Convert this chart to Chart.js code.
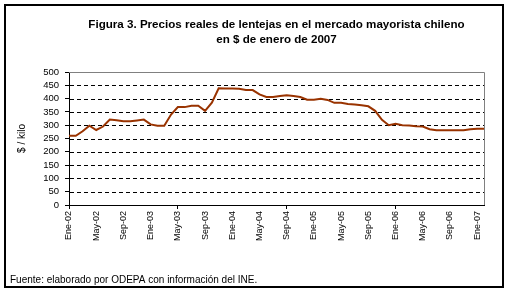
<!DOCTYPE html>
<html>
<head>
<meta charset="utf-8">
<script src="https://cdn.jsdelivr.net/npm/chart.js@4.4.0/dist/chart.umd.min.js"></script>
<style>
  html, body { margin: 0; padding: 0; background: #fff; }
  #wrap { position: relative; width: 509px; height: 293px; }
</style>
</head>
<body>
<div id="wrap"><canvas id="lentejasChart" width="509" height="293"></canvas></div>
<script>
// Meses (categorías), de Ene-02 a Feb-07
const meses = [
  'Ene-02','Feb-02','Mar-02','Abr-02','May-02','Jun-02','Jul-02','Ago-02','Sep-02','Oct-02','Nov-02','Dic-02',
  'Ene-03','Feb-03','Mar-03','Abr-03','May-03','Jun-03','Jul-03','Ago-03','Sep-03','Oct-03','Nov-03','Dic-03',
  'Ene-04','Feb-04','Mar-04','Abr-04','May-04','Jun-04','Jul-04','Ago-04','Sep-04','Oct-04','Nov-04','Dic-04',
  'Ene-05','Feb-05','Mar-05','Abr-05','May-05','Jun-05','Jul-05','Ago-05','Sep-05','Oct-05','Nov-05','Dic-05',
  'Ene-06','Feb-06','Mar-06','Abr-06','May-06','Jun-06','Jul-06','Ago-06','Sep-06','Oct-06','Nov-06','Dic-06',
  'Ene-07','Feb-07'
];

// Precio real ($/kilo, en $ de enero de 2007)
const precios = [
  260, 260, 277, 298, 282, 295, 321, 319, 315, 315, 318, 321,
  303, 298, 298, 340, 368, 368, 373, 373, 354, 385, 439, 438,
  438, 437, 432, 432, 416, 406, 406, 410, 413, 410, 406, 396,
  396, 399, 395, 384, 384, 380, 378, 375, 371, 354, 320, 300,
  305, 300, 299, 296, 295, 285, 281, 281, 281, 281, 281, 285,
  287, 287
];

// Marcas del eje y
const yMin = 0;
const yMax = 500;
const yPaso = 50;

const titulo = ['Figura 3. Precios reales de lentejas en el mercado mayorista chileno', 'en $ de enero de 2007'];
const tituloEjeY = '$ / kilo';
const fuente = 'Fuente: elaborado por ODEPA con información del INE.';

// textos, marco, líneas de división punteadas y borde gris del área de trazado
const decoracion = {
  id: 'decoracion',
  beforeDraw(chart) {
    const ctx = chart.ctx;
    ctx.save();
    ctx.fillStyle = '#fff';
    ctx.fillRect(0, 0, chart.width, chart.height);
    ctx.restore();
  },
  beforeDatasetsDraw(chart) {
    const ctx = chart.ctx;
    const a = chart.chartArea;
    const y = chart.scales.y;
    ctx.save();
    // líneas de división
    ctx.strokeStyle = '#000';
    ctx.lineWidth = 1;
    ctx.setLineDash([4, 3]);
    y.ticks.forEach(function(t) {
      if (t.value === yMin || t.value === yMax) return;
      const py = Math.round(y.getPixelForValue(t.value)) + 0.5;
      ctx.beginPath();
      ctx.moveTo(a.left + 1, py);
      ctx.lineTo(a.right, py);
      ctx.stroke();
    });
    ctx.setLineDash([]);
    ctx.strokeStyle = '#808080';
    ctx.beginPath();
    ctx.moveTo(a.left, Math.round(a.top) + 0.5);
    ctx.lineTo(Math.round(a.right) + 0.5, Math.round(a.top) + 0.5);
    ctx.lineTo(Math.round(a.right) + 0.5, a.bottom);
    ctx.stroke();
    ctx.restore();
  },
  afterDraw(chart) {
    const ctx = chart.ctx;
    const a = chart.chartArea;
    ctx.save();
    ctx.fillStyle = '#000';
    ctx.textAlign = 'center';
    ctx.textBaseline = 'middle';
    ctx.font = 'bold 11.6px "Liberation Sans", Arial, sans-serif';
    const cx = (a.left + a.right) / 2;
    ctx.fillText(titulo[0], cx, 25);
    ctx.fillText(titulo[1], cx, 40);
    ctx.textAlign = 'left';
    ctx.font = '10px "Liberation Sans", Arial, sans-serif';
    ctx.fillText(fuente, 10, 280);
    ctx.strokeStyle = '#000';
    ctx.lineWidth = 2;
    ctx.strokeRect(5, 5, 498, 282);
    ctx.restore();
  }
};

var ctx = document.getElementById('lentejasChart').getContext('2d');
var grafico = new Chart(ctx, {
  type: 'line',
  data: {
    labels: meses,
    datasets: [{
      label: 'Precio',
      data: precios,
      borderColor: '#993300',
      borderWidth: 2,
      pointRadius: 0,
      tension: 0,
      fill: false
    }]
  },
  options: {
    responsive: false,
    animation: false,
    events: [],
    layout: { padding: { top: 72, right: 25, bottom: 38, left: 0 } },
    plugins: {
      legend: { display: false },
      title: { display: false },
      tooltip: { enabled: false }
    },
    scales: {
      x: {
        type: 'category',
        offset: false,
        afterFit: function(scale) { scale.height = 50; },
        grid: {
          drawOnChartArea: false,
          drawTicks: true,
          tickLength: 4,
          tickColor: function(c) { return c.index % 4 === 0 ? '#000' : 'rgba(0,0,0,0)'; }
        },
        border: { display: true, color: '#000', width: 1 },
        ticks: {
          autoSkip: false,
          maxRotation: 90,
          minRotation: 90,
          padding: 2,
          color: '#000',
          font: { family: '"Liberation Sans", Arial, sans-serif', size: 9 },
          callback: function(val, idx) { return idx % 4 === 0 ? this.getLabelForValue(val) : null; }
        }
      },
      y: {
        min: yMin,
        max: yMax,
        afterFit: function(scale) { scale.width = 69; },
        grid: {
          drawOnChartArea: false,
          drawTicks: true,
          tickColor: '#000',
          tickLength: 4
        },
        border: { display: true, color: '#000', width: 1 },
        title: {
          display: true,
          text: tituloEjeY,
          color: '#000',
          padding: { top: 16, bottom: 0 },
          font: { family: '"Liberation Sans", Arial, sans-serif', size: 10 }
        },
        ticks: {
          stepSize: yPaso,
          autoSkip: false,
          padding: 6,
          color: '#000',
          font: { family: '"Liberation Sans", Arial, sans-serif', size: 9.5 }
        }
      }
    }
  },
  plugins: [decoracion]
});
</script>
</body>
</html>
